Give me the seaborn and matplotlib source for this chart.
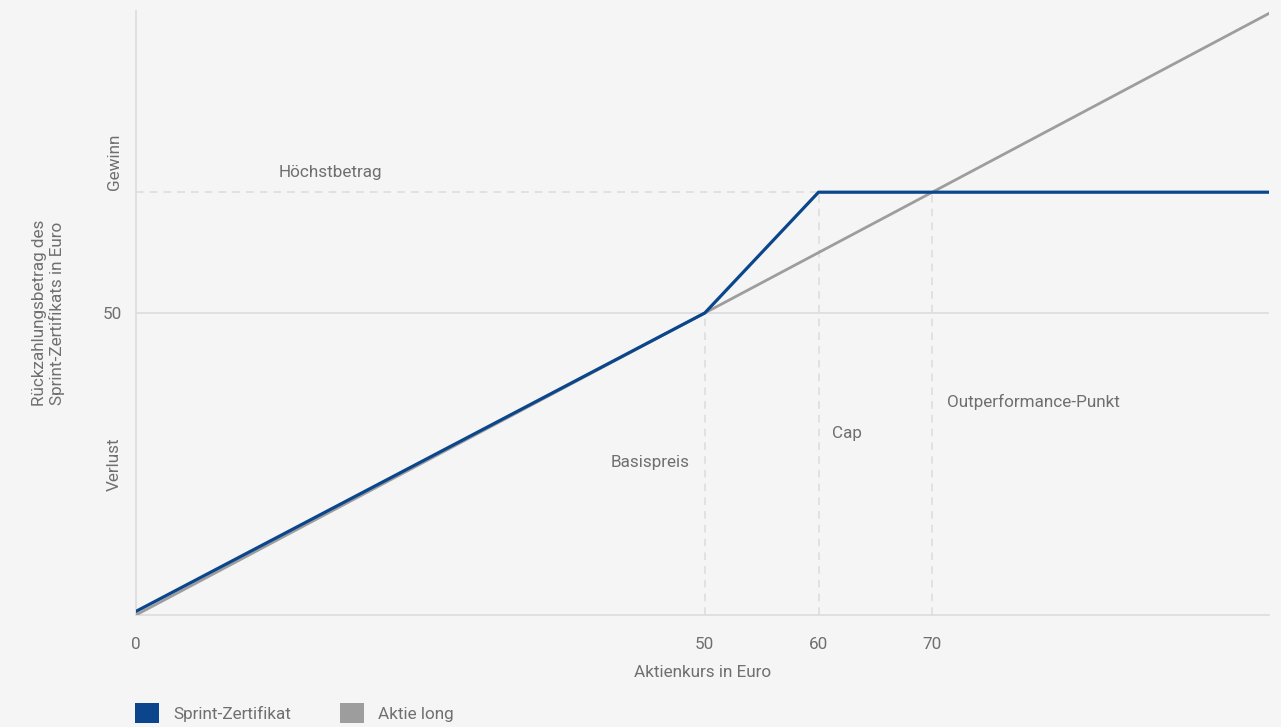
import matplotlib
matplotlib.use("Agg")
import matplotlib.pyplot as plt
import seaborn as sns
import pandas as pd
from matplotlib.patches import Patch

# Data
sprint_x = [0, 50, 60, 100]
sprint_y = [0.6, 50, 70, 70]
aktie_x = [0, 100]
aktie_y = [0, 100]
x_ticks = [0, 50, 60, 70]
x_tick_labels = ["0", "50", "60", "70"]
y_ticks = [25, 50, 75]
y_tick_labels = ["Verlust", "50", "Gewinn"]
cap_level = 70
series_names = ["Sprint-Zertifikat", "Aktie long"]
annotations = [
    ("Höchstbetrag", 12.5, 73.3, "left"),
    ("Basispreis", 48.7, 25.2, "right"),
    ("Cap", 61.2, 30.0, "left"),
    ("Outperformance-Punkt", 71.3, 35.3, "left"),
]

BLUE = "#0b468c"
GRAY = "#9d9d9d"
BG = "#f5f5f5"
TXT = "#6f6f6f"
GRID = "#dcdcdc"
FS = 12.3

sns.set_theme(style="white")
plt.rcParams["font.family"] = ["Roboto", "DejaVu Sans"]

fig = plt.figure(figsize=(12.81, 7.27), dpi=100, facecolor=BG)
ax = fig.add_axes([136 / 1281, 1 - 615 / 727, (1269 - 136) / 1281, (615 - 11) / 727])
ax.set_facecolor(BG)

df_a = pd.DataFrame({"x": aktie_x, "y": aktie_y})
df_s = pd.DataFrame({"x": sprint_x, "y": sprint_y})

# reference lines
ax.axhline(50, color=GRID, lw=1.2, zorder=1)
ax.plot([0, 100], [cap_level, cap_level], color=GRID, lw=1.1, ls=(0, (5, 4)), zorder=1)
ax.plot([50, 50], [0, 50], color=GRID, lw=1.1, ls=(0, (5, 4)), zorder=1)
ax.plot([60, 60], [0, 70], color=GRID, lw=1.1, ls=(0, (5, 4)), zorder=1)
ax.plot([70, 70], [0, 70], color=GRID, lw=1.1, ls=(0, (5, 4)), zorder=1)

sns.lineplot(data=df_a, x="x", y="y", ax=ax, color=GRAY, lw=2.0, zorder=3)
sns.lineplot(data=df_s, x="x", y="y", ax=ax, color=BLUE, lw=2.3, zorder=4)

ax.set_xlim(0, 99.6)
ax.set_ylim(0, 100)
ax.set_xticks(x_ticks)
ax.set_xticklabels(x_tick_labels)
ax.set_yticks(y_ticks)
ax.set_yticklabels(y_tick_labels)
for lbl, t in zip(ax.get_yticklabels(), y_tick_labels):
    if t != "50":
        lbl.set_rotation(90)
        lbl.set_va("center")
ax.tick_params(axis="both", length=0, labelsize=FS, labelcolor=TXT)
ax.tick_params(axis="x", pad=16)
ax.tick_params(axis="y", pad=10)

for s in ["top", "right"]:
    ax.spines[s].set_visible(False)
for s in ["left", "bottom"]:
    ax.spines[s].set_color(GRID)
    ax.spines[s].set_linewidth(1.2)

ax.set_xlabel("Aktienkurs in Euro", fontsize=FS, color=TXT, labelpad=9)
ax.set_ylabel("Rückzahlungsbetrag des\nSprint-Zertifikats in Euro", fontsize=FS, color=TXT, labelpad=27)

for text, x, y, ha in annotations:
    ax.text(x, y, text, ha=ha, va="center", fontsize=FS, color=TXT)

handles = [Patch(facecolor=BLUE, edgecolor="none"), Patch(facecolor=GRAY, edgecolor="none")]
fig.legend(handles, series_names, loc="lower left", bbox_to_anchor=(120 / 1281, -0.016),
           ncol=2, frameon=False, fontsize=FS, labelcolor=TXT,
           handlelength=1.4, handleheight=1.45, handletextpad=0.8, columnspacing=2.9)

fig.savefig("out.png", dpi=100, facecolor=BG)
